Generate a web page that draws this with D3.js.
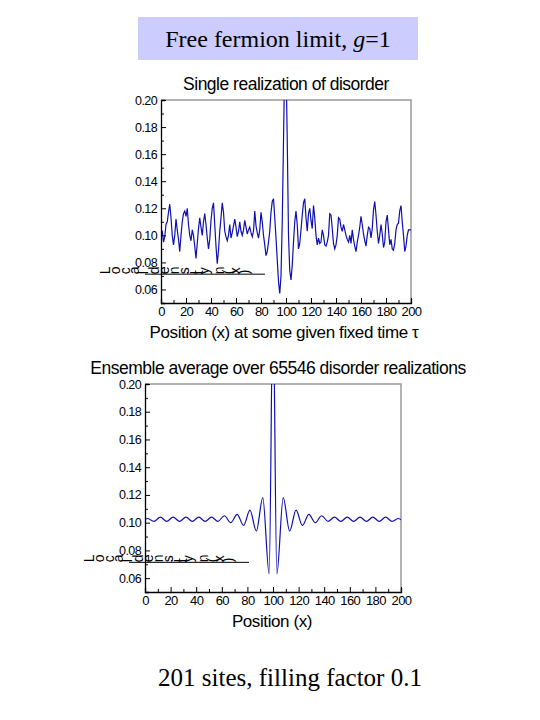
<!DOCTYPE html>
<html><head><meta charset="utf-8">
<script src="https://cdn.jsdelivr.net/npm/d3@7"></script>
<style>body{margin:0;background:#fff}</style>
</head><body>
<script>
// Single realization, one value per site x = 0..200
const singleY = [
  .104,.103,.095,.099,.108,.110,.117,.123,.113,.100,.093,.100,.112,.104,.097,.088,.100,.110,.116,.118,
  .114,.120,.108,.100,.096,.104,.100,.092,.083,.094,.105,.113,.106,.100,.110,.116,.108,.098,.090,.097,
  .111,.120,.124,.108,.092,.079,.089,.103,.113,.124,.117,.103,.099,.096,.100,.108,.098,.102,.107,.112,
  .106,.099,.103,.110,.103,.100,.104,.111,.106,.101,.104,.106,.102,.099,.103,.118,.107,.102,.098,.104,
  .117,.110,.100,.093,.085,.088,.095,.103,.117,.125,.127,.113,.098,.082,.066,.057,.070,.110,.170,.230,
  .230,.170,.100,.074,.067,.078,.095,.110,.118,.108,.090,.094,.104,.115,.124,.127,.113,.103,.116,.120,
  .111,.105,.122,.113,.100,.093,.098,.094,.095,.104,.100,.093,.092,.095,.100,.116,.115,.105,.094,.090,
  .093,.100,.113,.112,.106,.103,.108,.104,.100,.097,.095,.100,.094,.104,.097,.092,.088,.095,.100,.106,
  .114,.108,.101,.096,.092,.100,.106,.105,.098,.105,.119,.125,.115,.103,.094,.100,.108,.101,.091,.095,
  .110,.115,.104,.093,.097,.090,.089,.094,.104,.108,.109,.118,.122,.110,.100,.088,.092,.100,.104,.104,
  .104
];
// Ensemble average, read at extrema
const avgX = [0,2,7,12,17,22,27,32,37,42,47,52,57,62,67,72,77,82,87,92,97,100,103,108,113,118,123,128,133,138,143,148,153,158,163,168,173,178,183,188,193,198,200];
const avgY = [.102,.103,.101,.104,.101,.104,.101,.104,.101,.104,.101,.104,.101,.105,.100,.106,.098,.109,.094,.118,.063,.26,.063,.118,.094,.109,.098,.106,.100,.105,.101,.104,.101,.104,.101,.104,.101,.104,.101,.104,.101,.103,.102];
const yTicks = [0.06,0.08,0.10,0.12,0.14,0.16,0.18,0.20];
const xTicks = [0,20,40,60,80,100,120,140,160,180,200];

const svg = d3.select("body").append("svg").attr("width",540).attr("height",720);
const sans = "Liberation Sans, Arial, sans-serif";
const serif = "Liberation Serif, Times New Roman, serif";

// header box
svg.append("rect").attr("x",138).attr("y",17).attr("width",280).attr("height",43).attr("fill","#ccccff");
const ht = svg.append("text").attr("x",278).attr("y",47).attr("text-anchor","middle")
  .attr("font-family",serif).attr("font-size",24);
ht.append("tspan").text("Free fermion limit, ");
ht.append("tspan").attr("font-style","italic").text("g");
ht.append("tspan").text("=1");

function panel(o) {
  const x = d3.scaleLinear().domain([0,200]).range([o.x0,o.x1]);
  const y = d3.scaleLinear().domain([0.05,0.20]).range([o.yb,o.yt]);
  const g = svg.append("g");
  g.append("text").attr("x",o.tx).attr("y",o.yt-10).attr("text-anchor","middle")
    .attr("font-family",sans).attr("font-size",17.5).attr("letter-spacing","-0.5").text(o.title);
  // top/right frame
  g.append("path").attr("d",`M${o.x0},${o.yt}H${o.x1}V${o.yb}`).attr("fill","none").attr("stroke","#999").attr("stroke-width",1.5);
  const id = "clip"+o.x0;
  g.append("clipPath").attr("id",id).append("rect").attr("x",o.x0).attr("y",o.yt).attr("width",o.x1-o.x0).attr("height",o.yb-o.yt);
  g.append("path").datum(o.data).attr("clip-path",`url(#${id})`)
    .attr("fill","none").attr("stroke","#1010b0").attr("stroke-width",1.2)
    .attr("d",d3.line().x(d=>x(d[0])).y(d=>y(d[1])).curve(o.curve));
  const ya = g.append("g").attr("transform",`translate(${o.x0},0)`)
    .call(d3.axisRight(y).tickValues(d3.range(0.05,0.2001,0.01)).tickSize(4).tickFormat(""));
  ya.selectAll(".tick line").attr("x2",(d,i)=>i%2?5:3);
  g.append("g").attr("transform",`translate(${o.x0},0)`)
    .call(d3.axisLeft(y).tickValues(yTicks).tickSize(0).tickPadding(4).tickFormat(d3.format(".2f")))
    .call(a=>a.select(".domain").remove())
    .selectAll("text").attr("font-family",sans).attr("font-size",12.5).attr("letter-spacing","-0.6");
  ya.select(".domain").attr("stroke-width",1.3);
  const xa = g.append("g").attr("transform",`translate(0,${o.yb})`)
    .call(d3.axisTop(x).tickValues(d3.range(0,201,10)).tickSize(4).tickFormat(""));
  xa.selectAll(".tick line").attr("y2",(d,i)=>i%2?-3:-5);
  xa.select(".domain").attr("stroke-width",1.3);
  g.append("g").attr("transform",`translate(0,${o.yb})`)
    .call(d3.axisBottom(x).tickValues(xTicks).tickSize(0).tickPadding(4))
    .call(a=>a.select(".domain").remove())
    .selectAll("text").attr("font-family",sans).attr("font-size",13).attr("letter-spacing","-0.6");
  g.append("text").attr("x",o.lx).attr("y",o.yb+35).attr("text-anchor","middle")
    .attr("font-family",sans).attr("font-size",17).attr("letter-spacing","-0.4").text(o.xlabel);
  // garbled y label as rendered in the source
  g.append("text").attr("x",o.gx).attr("y",y(0.075)+5).attr("font-family",sans).attr("font-size",14)
    .attr("rotate","-90").attr("letter-spacing","2").text("Local density n(x)");
  g.append("line").attr("x1",o.gx+35).attr("x2",o.gx+155).attr("y1",y(0.075)+5).attr("y2",y(0.075)+5).attr("stroke","#000");
}

panel({x0:161,x1:411,yt:100,yb:303,tx:286,lx:284,gx:110,curve:d3.curveLinear,
  title:"Single realization of disorder",xlabel:"Position (x) at some given fixed time τ",
  data:singleY.map((v,i)=>[i,v])});
panel({x0:145,x1:401,yt:384,yb:592,tx:278,lx:272,gx:94,curve:d3.curveMonotoneX,
  title:"Ensemble average over 65546 disorder realizations",xlabel:"Position (x)",
  data:avgX.map((v,i)=>[v,avgY[i]])});

svg.append("text").attr("x",290).attr("y",686).attr("text-anchor","middle")
  .attr("font-family",serif).attr("font-size",25).text("201 sites, filling factor 0.1");
</script>
</body></html>
